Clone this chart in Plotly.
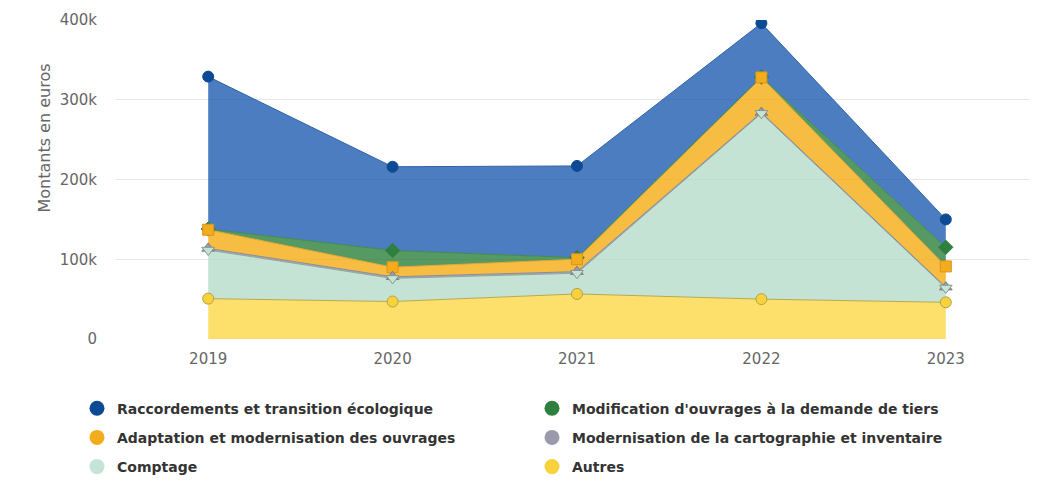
import numpy as np
import plotly.graph_objects as go

years = ["2019", "2020", "2021", "2022", "2023"]

autres = [50600, 47000, 56500, 50000, 46000]
comptage = [61000, 29000, 26000, 233000, 18000]
cartographie = [2000, 2000, 2000, 1000, 1000]
adaptation = [23400, 12000, 15500, 44000, 26000]
modification = [1000, 21000, 2000, 500, 24000]
raccordements = [191000, 105000, 115000, 67500, 35000]

y_tick_vals = [0, 100000, 200000, 300000, 400000]
y_tick_text = ["0", "100k", "200k", "300k", "400k"]

names = {
    "rac": "Raccordements et transition écologique",
    "mod": "Modification d'ouvrages à la demande de tiers",
    "ada": "Adaptation et modernisation des ouvrages",
    "car": "Modernisation de la cartographie et inventaire",
    "com": "Comptage",
    "aut": "Autres",
}

# stacking order: bottom -> top
# (key, values, marker color, fill rgba, line color, symbol, legend, rank, marker outline)
series = [
    ("aut", autres, "#f8d23a", "rgba(251,214,58,0.75)", "#b9a84e", "circle", "legend2", 6, "#b3a24a"),
    ("com", comptage, "#c4e4d6", "rgba(176,217,199,0.75)", "#8fa79c", "triangle-down", "legend", 5, "#8a948f"),
    ("car", cartographie, "#9a9aab", "rgba(140,140,160,0.75)", "#8a8a99", "triangle-up", "legend2", 4, "#7d7d8c"),
    ("ada", adaptation, "#f3ac1b", "rgba(245,172,20,0.8)", "#e6a530", "square", "legend", 3, "#d9961a"),
    ("mod", modification, "#2f7f3e", "rgba(44,128,60,0.8)", "#3f8a4f", "diamond", "legend2", 2, "#2f7f3e"),
    ("rac", raccordements, "#0d4a94", "rgba(30,92,176,0.8)", "#2f63a8", "circle", "legend", 1, "#0d4a94"),
]

fig = go.Figure()
for key, vals, mcol, fcol, lcol, sym, leg, rank, mline in series:
    fig.add_trace(go.Scatter(
        x=years, y=vals, name=names[key], stackgroup="one", mode="lines",
        fillcolor=fcol, line=dict(color=lcol, width=1),
        showlegend=False, hoverinfo="x+y+name",
    ))

# markers at stacked tops, drawn top series first so lower series' markers sit above
tops = np.cumsum(np.array([s[1] for s in series], dtype=float), axis=0)
for i in reversed(range(len(series))):
    key, vals, mcol, fcol, lcol, sym, leg, rank, mline = series[i]
    fig.add_trace(go.Scatter(
        x=years, y=tops[i], mode="markers", name=names[key],
        marker=dict(symbol=sym, size=11, color=mcol, line=dict(color=mline, width=1)),
        showlegend=False, hoverinfo="skip",
    ))

# legend-only entries (circle symbols like the reference legend)
for key, vals, mcol, fcol, lcol, sym, leg, rank, mline in series:
    fig.add_trace(go.Scatter(
        x=[None], y=[None], name=names[key], mode="markers",
        marker=dict(symbol="circle", size=15, color=mcol),
        legend=leg, legendrank=rank, legendgroup=key, showlegend=True,
    ))

legend_font = dict(family="DejaVu Sans", size=14, color="#333333", weight="bold")

fig.update_layout(
    width=1030, height=475,
    margin=dict(l=108, r=0, t=12, b=144),
    paper_bgcolor="white", plot_bgcolor="white",
    font=dict(family="DejaVu Sans", color="#333333"),
    xaxis=dict(type="category", range=[-0.5, 4.5], showgrid=False, zeroline=False,
               showline=False, ticks="", tickfont=dict(size=15, color="#666666"),
               ticklabelstandoff=9),
    yaxis=dict(range=[0, 400000], tickvals=y_tick_vals, ticktext=y_tick_text,
               showgrid=True, gridcolor="#e6e6e6", gridwidth=1, zeroline=False,
               tickfont=dict(size=15, color="#666666"), ticklabelstandoff=18),
    legend=dict(x=-0.0423, y=-0.168, xanchor="left", yanchor="top", orientation="v",
                tracegroupgap=8, font=legend_font, bgcolor="rgba(0,0,0,0)"),
    legend2=dict(x=0.4512, y=-0.168, xanchor="left", yanchor="top", orientation="v",
                 tracegroupgap=8, font=legend_font, bgcolor="rgba(0,0,0,0)"),
    annotations=[dict(text="Montants en euros", textangle=-90, xref="paper", yref="paper",
                      x=-0.09, y=0.63, showarrow=False,
                      font=dict(family="DejaVu Sans", size=16, color="#666666"))],
)

fig.write_html("out.html")
